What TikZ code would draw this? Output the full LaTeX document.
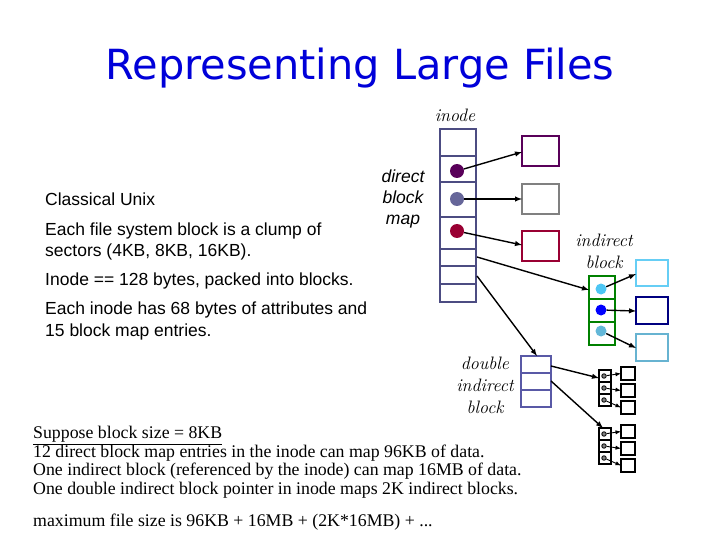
\documentclass[tikz,border=0pt]{standalone}
\usepackage{fontspec}
\setmainfont{Liberation Serif}
\setsansfont{Liberation Sans}
\newfontfamily\titlefont{DejaVu Sans}
\newfontfamily\lmfont{Latin Modern Roman}
\begin{document}
\begin{tikzpicture}[x=1pt,y=-1pt,
  blk/.style={draw=#1,line width=1.6pt},
  arr/.style={-latex,line width=1.4pt},
  dot/.style={circle,fill=#1,inner sep=0pt,minimum size=14pt},
  sdot/.style={circle,draw,fill=black!50,inner sep=0pt,minimum size=4.5pt,line width=0.8pt},
  lab/.style={font=\fontsize{18}{22}\selectfont\itshape\lmfont,align=center}]
\useasboundingbox[fill=white] (0,0) rectangle (720,540);
\node[font=\titlefont\fontsize{41.5}{44}\selectfont,text=blue!85!black] (t) at (360,68) {Representing Large Files};
\node[lab] (in) at (455,115) {inode};
\node[font=\sffamily\fontsize{17.5}{20}\selectfont,anchor=north west,align=left,inner sep=0pt] (ct) at (45,193) {Classical Unix};
\node[font=\sffamily\fontsize{17.5}{21}\selectfont,anchor=north west,align=left,inner sep=0pt] (c2) at (45,223) {Each file system block is a clump of\\sectors (4KB, 8KB, 16KB).};
\node[font=\sffamily\fontsize{17.5}{20}\selectfont,anchor=north west,align=left,inner sep=0pt] (c3) at (45,273) {Inode == 128 bytes, packed into blocks.};
\node[font=\sffamily\fontsize{17.5}{21.5}\selectfont,anchor=north west,align=left,inner sep=0pt] (c4) at (45,302) {Each inode has 68 bytes of attributes and\\15 block map entries.};
\node[font=\sffamily\itshape\fontsize{17.5}{21}\selectfont,align=center] (dbm) at (403,199) {direct\\block\\map};
% inode
\draw[blk=blue!30!black!70] (440,129) rectangle (476,302);
\foreach \y in {156,182,217,249,266,284} \draw[blk=blue!30!black!70] (440,\y) -- (476,\y);
\node[dot=violet!70!black] (d1) at (457,171) {};
\node[dot=blue!20!gray] (d2) at (457,199) {};
\node[dot=purple!80!black] (d3) at (457,231) {};
\draw[blk=violet!70!black] (522,136) rectangle (559,166);
\draw[blk=gray] (522,184) rectangle (559,214);
\draw[blk=purple!80!black] (522,231) rectangle (559,261);
\coordinate (b1) at (522,152); \coordinate (b2) at (522,199); \coordinate (b3) at (522,245);
\draw[arr] (d1) -- (b1); \draw[arr] (d2) -- (b2); \draw[arr] (d3) -- (b3);
% indirect
\node[lab] (il) at (604,251) {indirect\\block};
\draw[blk=green!50!black] (589,276) rectangle (615,345);
\foreach \y in {299,322} \draw[blk=green!50!black] (589,\y) -- (615,\y);
\node[dot=cyan!70,minimum size=11pt] (e1) at (601,289) {};
\node[dot=blue,minimum size=11pt] (e2) at (601,310) {};
\node[dot=cyan!60!teal!70,minimum size=11pt] (e3) at (601,331) {};
\draw[blk=cyan!60] (636,260) rectangle (668,286);
\draw[blk=blue!50!black] (636,297) rectangle (668,324);
\draw[blk=cyan!50!teal!70] (636,334) rectangle (668,361);
\coordinate (f1) at (636,274); \coordinate (f2) at (636,311); \coordinate (f3) at (636,348);
\draw[arr] (e1) -- (f1); \draw[arr] (e2) -- (f2); \draw[arr] (e3) -- (f3);
\coordinate (i1) at (477,257); \coordinate (i1e) at (589,290);
\draw[arr] (i1) -- (i1e);
% double indirect
\node[lab] (dl) at (485,385) {double\\indirect\\block};
\draw[blk=gray!70!blue] (521,356) rectangle (551,407);
\foreach \y in {373,390} \draw[blk=gray!70!blue] (521,\y) -- (551,\y);
\coordinate (i2) at (477,276); \coordinate (i2e) at (537,356);
\draw[arr] (i2) -- (i2e);
\foreach \yy/\n in {370/a,428/b}{
  \draw[line width=1.3pt] (599,\yy) rectangle (611,\yy+36);
  \draw[line width=1.3pt] (599,\yy+12) -- (611,\yy+12) (599,\yy+24) -- (611,\yy+24);
  \foreach \k in {0,1,2}{
    \node[sdot] (s\n\k) at (604,\yy+6+12*\k) {};
    \draw[line width=1.3pt] (621,\yy-3+17*\k) rectangle (635,\yy+10+17*\k);
    \coordinate (g\n\k) at (621,\yy+3.5+17*\k);
    \draw[-latex,line width=0.9pt] (s\n\k) -- (g\n\k);
  }
}
\coordinate (j1) at (551,366); \coordinate (j1e) at (599,378);
\coordinate (j2) at (551,381); \coordinate (j2e) at (603,428);
\draw[arr] (j1) -- (j1e); \draw[arr] (j2) -- (j2e);
% bottom text
\node[font=\fontsize{17.8}{18.5}\selectfont,anchor=north west,align=left,inner sep=0pt] (bt) at (33,426) {\underline{Suppose block size = 8KB}\\12 direct block map entries in the inode can map 96KB of data.\\One indirect block (referenced by the inode) can map 16MB of data.\\One double indirect block pointer in inode maps 2K indirect blocks.};
\node[font=\fontsize{17.8}{19}\selectfont,anchor=north west,inner sep=0pt] (mx) at (33,514) {maximum file size is 96KB + 16MB + (2K*16MB) + ...};
\end{tikzpicture}
\end{document}
